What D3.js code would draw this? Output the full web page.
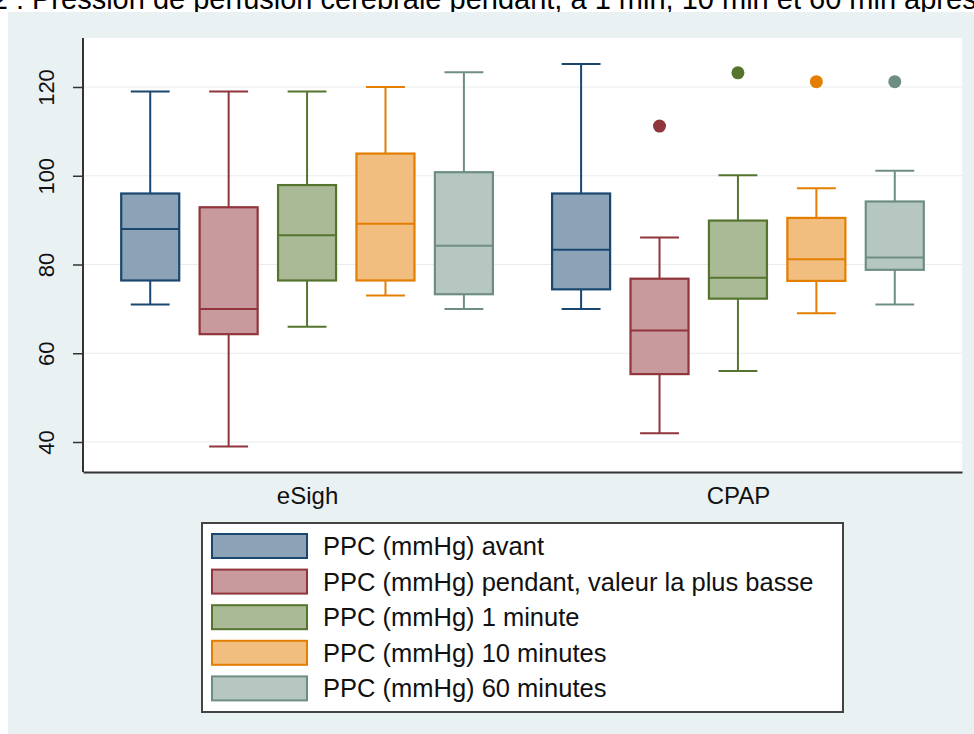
<!DOCTYPE html>
<html>
<head>
<meta charset="utf-8">
<script src="https://cdn.jsdelivr.net/npm/d3@7"></script>
<style>
  body { margin: 0; background: #fff; }
  svg { display: block; font-family: "Liberation Sans", Arial, sans-serif; }
</style>
</head>
<body>
<div class="canvas"></div>
<script>
// groups on the x axis and the five series (legend order)
const groups = ["eSigh", "CPAP"];
const series = [
  "PPC (mmHg) avant",
  "PPC (mmHg) pendant, valeur la plus basse",
  "PPC (mmHg) 1 minute",
  "PPC (mmHg) 10 minutes",
  "PPC (mmHg) 60 minutes"
];
const yTicks = [40, 60, 80, 100, 120];

// box statistics, one row per group, one value per series
const lowerWhisker = [[71, 39, 66, 73, 70], [70, 42, 56, 69, 71]];
const q1 = [[76.4, 64.3, 76.4, 76.4, 73.3], [74.4, 55.3, 72.3, 76.3, 78.8]];
const median = [[88, 70, 86.6, 89.2, 84.2], [83.3, 65.1, 77, 81.2, 81.6]];
const q3 = [[96, 92.9, 97.9, 105, 100.8], [96, 76.8, 89.9, 90.5, 94.2]];
const upperWhisker = [[119, 119, 119, 120, 123.3], [125.2, 86.1, 100.1, 97.2, 101.1]];
const outliers = [[[], [], [], [], []], [[], [111.2], [123.2], [121.2], [121.2]]];

// stata s2color palette
const lineColors = ["#1a476f", "#90353b", "#55752f", "#e37e00", "#6e8e84"];
const fillColors = ["#8ca3b7", "#c89a9d", "#aaba97", "#f1be7f", "#b6c6c1"];

const W = 974, H = 734;
const plot = {left: 83, right: 962, top: 38, bottom: 472};

const svg = d3.select('.canvas')
  .append('svg')
  .attr('width', W)
  .attr('height', H);

// title (cut off at the top of the picture, as in the source)
svg.append('text')
  .attr('x', 24).attr('y', 9)
  .attr('text-anchor', 'end')
  .attr('font-size', 29)
  .text('Figure 2 :');
svg.append('text')
  .attr('x', 32).attr('y', 9)
  .attr('font-size', 29)
  .text('Pression de perfusion cérébrale pendant, à 1 min, 10 min et 60 min après');

// outer panel
svg.append('rect')
  .attr('x', 8).attr('y', 12)
  .attr('width', W - 8).attr('height', H - 12)
  .attr('fill', '#eaf1f3');

// plot region
svg.append('rect')
  .attr('x', plot.left).attr('y', plot.top)
  .attr('width', plot.right - plot.left)
  .attr('height', plot.bottom - plot.top)
  .attr('fill', '#fff');

// scales
const y = d3.scaleLinear()
  .domain([40, 120])
  .range([442, 87]);

const x = d3.scalePoint()
  .domain(groups)
  .range([plot.left, plot.right])
  .padding(0.52);

const inner = d3.scaleBand()
  .domain(d3.range(series.length))
  .range([-x.step() * 0.455, x.step() * 0.455])
  .paddingInner(0.26)
  .paddingOuter(0.13);

// grid
svg.append('g')
  .selectAll('line')
  .data(yTicks)
  .join('line')
  .attr('x1', plot.left).attr('x2', plot.right)
  .attr('y1', d => y(d)).attr('y2', d => y(d))
  .attr('stroke', '#eaecec')
  .attr('stroke-width', 1.2);

// y axis
const yAxisGroup = svg.append('g')
  .attr('transform', `translate(${plot.left}, 0)`)
  .call(d3.axisLeft(y).tickValues(yTicks).tickSize(10).tickPadding(6));
yAxisGroup.select('.domain').remove();
yAxisGroup.selectAll('.tick line').attr('stroke', '#333').attr('stroke-width', 1.5);
yAxisGroup.selectAll('.tick text')
  .attr('font-size', 22)
  .attr('fill', '#111')
  .attr('font-family', '"Liberation Sans", Arial, sans-serif')
  .attr('dy', 0)
  .attr('text-anchor', 'middle')
  .attr('transform', 'rotate(-90)')
  .attr('y', -29)
  .attr('x', 0);

svg.append('line')
  .attr('x1', plot.left).attr('x2', plot.left)
  .attr('y1', plot.top).attr('y2', plot.bottom)
  .attr('stroke', '#333').attr('stroke-width', 2);

// x axis
const xAxisGroup = svg.append('g')
  .attr('transform', `translate(0, ${plot.bottom})`)
  .call(d3.axisBottom(x).tickSize(0).tickSizeOuter(0).tickPadding(10));
xAxisGroup.select('.domain').attr('stroke', '#333').attr('stroke-width', 2);
xAxisGroup.selectAll('.tick text')
  .attr('font-size', 24)
  .attr('fill', '#111')
  .attr('font-family', '"Liberation Sans", Arial, sans-serif')
  .attr('dy', '0.9em');

// flatten box stats
const boxes = [];
groups.forEach((g, gi) => {
  series.forEach((s, si) => {
    boxes.push({
      group: g, si: si,
      lo: lowerWhisker[gi][si], q1: q1[gi][si], med: median[gi][si],
      q3: q3[gi][si], hi: upperWhisker[gi][si], out: outliers[gi][si]
    });
  });
});

const bw = inner.bandwidth();
const capW = bw * 0.67;

const box = svg.append('g')
  .selectAll('g')
  .data(boxes)
  .join('g')
  .attr('transform', d => `translate(${x(d.group) + inner(d.si) + bw / 2}, 0)`);

// whiskers
box.append('line')
  .attr('x1', 0).attr('x2', 0)
  .attr('y1', d => y(d.hi)).attr('y2', d => y(d.q3))
  .attr('stroke', d => lineColors[d.si]).attr('stroke-width', 2);
box.append('line')
  .attr('x1', 0).attr('x2', 0)
  .attr('y1', d => y(d.q1)).attr('y2', d => y(d.lo))
  .attr('stroke', d => lineColors[d.si]).attr('stroke-width', 2);

// caps
box.append('line')
  .attr('x1', -capW / 2).attr('x2', capW / 2)
  .attr('y1', d => y(d.hi)).attr('y2', d => y(d.hi))
  .attr('stroke', d => lineColors[d.si]).attr('stroke-width', 2);
box.append('line')
  .attr('x1', -capW / 2).attr('x2', capW / 2)
  .attr('y1', d => y(d.lo)).attr('y2', d => y(d.lo))
  .attr('stroke', d => lineColors[d.si]).attr('stroke-width', 2);

// boxes
box.append('rect')
  .attr('x', -bw / 2).attr('width', bw)
  .attr('y', d => y(d.q3))
  .attr('height', d => y(d.q1) - y(d.q3))
  .attr('fill', d => fillColors[d.si])
  .attr('stroke', d => lineColors[d.si])
  .attr('stroke-width', 2.2);

// medians
box.append('line')
  .attr('x1', -bw / 2).attr('x2', bw / 2)
  .attr('y1', d => y(d.med)).attr('y2', d => y(d.med))
  .attr('stroke', d => lineColors[d.si]).attr('stroke-width', 2);

// outside values
box.selectAll('circle')
  .data(d => d.out.map(v => ({v: v, si: d.si})))
  .join('circle')
  .attr('cx', 0).attr('cy', d => y(d.v))
  .attr('r', 6.5)
  .attr('fill', d => lineColors[d.si]);

// legend
const leg = {x: 202, y: 523, w: 641, h: 189, row: 35.6};
svg.append('rect')
  .attr('x', leg.x).attr('y', leg.y)
  .attr('width', leg.w).attr('height', leg.h)
  .attr('fill', '#fff')
  .attr('stroke', '#444').attr('stroke-width', 2);

const items = svg.append('g')
  .selectAll('g')
  .data(series)
  .join('g')
  .attr('transform', (d, i) => `translate(${leg.x + 10}, ${leg.y + 23 + i * leg.row})`);

items.append('rect')
  .attr('x', 0).attr('y', -12)
  .attr('width', 95).attr('height', 24)
  .attr('fill', (d, i) => fillColors[i])
  .attr('stroke', (d, i) => lineColors[i])
  .attr('stroke-width', 2);

items.append('text')
  .attr('x', 111).attr('y', 9)
  .attr('font-size', 25.5)
  .attr('fill', '#111')
  .text(d => d);
</script>
</body>
</html>
